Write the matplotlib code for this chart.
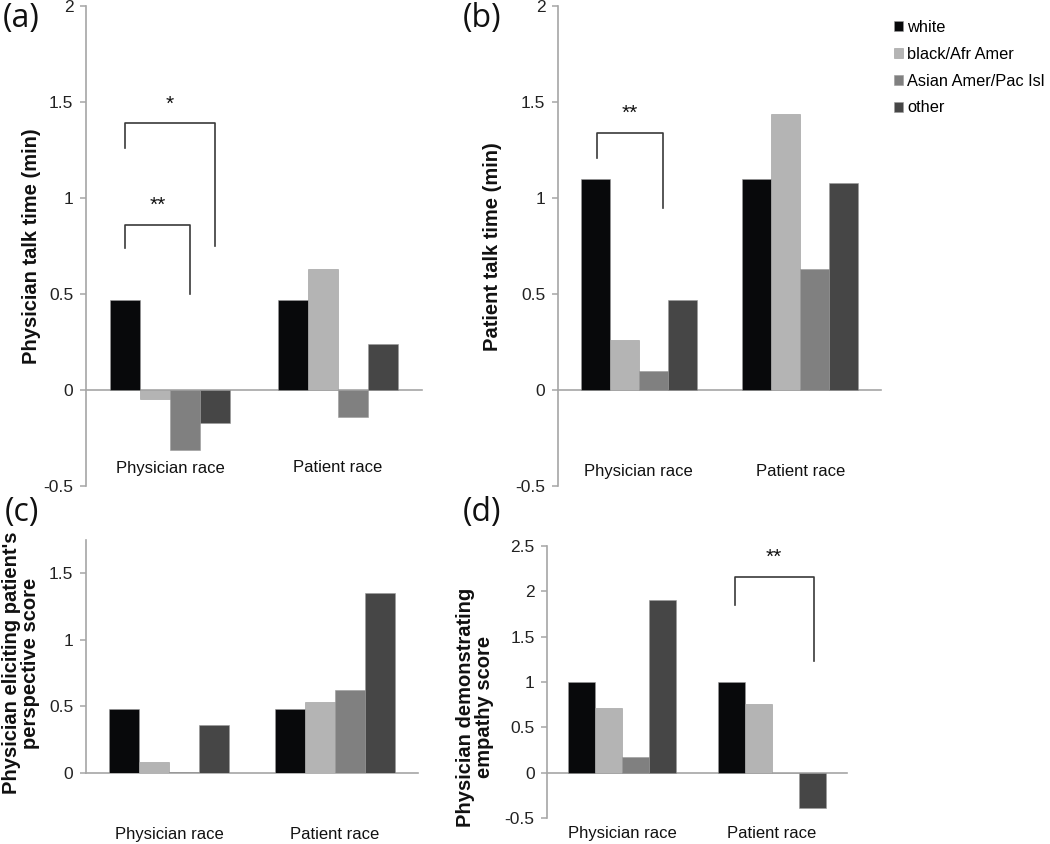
import matplotlib
matplotlib.use("Agg")
import matplotlib.pyplot as plt
import numpy as np

plt.rcParams['font.family'] = ['Liberation Sans', 'DejaVu Sans']

groups = ['Physician race', 'Patient race']
races = ['white', 'black/Afr Amer', 'Asian Amer/Pac Isl', 'other']
colors = ['#08090b', '#b4b4b4', '#808080', '#464646']

# values per race: [physician race, patient race]
talk_phys = {'white': [0.47, 0.47], 'black/Afr Amer': [-0.045, 0.63],
             'Asian Amer/Pac Isl': [-0.31, -0.14], 'other': [-0.17, 0.24]}
talk_pat = {'white': [1.10, 1.10], 'black/Afr Amer': [0.26, 1.44],
            'Asian Amer/Pac Isl': [0.10, 0.63], 'other': [0.47, 1.08]}
eliciting = {'white': [0.48, 0.48], 'black/Afr Amer': [0.08, 0.53],
             'Asian Amer/Pac Isl': [0.01, 0.62], 'other': [0.36, 1.35]}
empathy = {'white': [1.0, 1.0], 'black/Afr Amer': [0.71, 0.76],
           'Asian Amer/Pac Isl': [0.17, 0.0], 'other': [1.90, -0.39]}

W, H = 1050, 844
fig = plt.figure(figsize=(W / 100, H / 100), dpi=100)


def px_axes(left, top, right, bottom):
    return fig.add_axes([left / W, 1 - bottom / H, (right - left) / W, (bottom - top) / H])


def bar_panel(ax, data, ylim, yticks, label_y):
    x = np.arange(len(groups))
    width = 0.18
    handles = []
    for i, r in enumerate(races):
        h = ax.bar(x + (i - 1.5) * width, data[r], width, color=colors[i],
                   edgecolor='#9a9a9a', linewidth=0.4, label=r, zorder=2)
        handles.append(h)
    ax.set_xlim(-0.5, 1.5)
    ax.set_ylim(*ylim)
    ax.set_yticks(yticks)
    ax.set_yticklabels([('%g' % t) for t in yticks])
    ax.set_xticks([])
    for s in ['top', 'right', 'bottom']:
        ax.spines[s].set_visible(False)
    ax.spines['left'].set_color('#a6a6a6')
    ax.spines['left'].set_linewidth(1.2)
    ax.tick_params(axis='y', length=4, width=1.1, color='#a6a6a6',
                   labelsize=12.5, labelcolor='#222222', pad=5)
    ax.axhline(0, color='#a6a6a6', lw=1.2, zorder=1, clip_on=False)
    for xi, g in zip(x, groups):
        ax.text(xi, label_y, g, transform=ax.get_xaxis_transform(),
                ha='center', va='center', fontsize=12, color='#111111', clip_on=False)
    return handles


def bracket(ax, x1, x2, y1, ytop, y2, text, ty):
    ax.plot([x1, x1, x2, x2], [y1, ytop, ytop, y2], color='#3a3a3a', lw=1.2, zorder=3)
    ax.text((x1 + x2) / 2, ty, text, ha='center', va='center', fontsize=15, color='#111111')


ax_a = px_axes(86, 6, 422, 486)
handles = bar_panel(ax_a, talk_phys, (-0.5, 2), [-0.5, 0, 0.5, 1, 1.5, 2], 0.0375)
bracket(ax_a, -0.27, 0.12, 0.74, 0.86, 0.50, '**', 0.96)
bracket(ax_a, -0.27, 0.27, 1.26, 1.39, 0.75, '*', 1.49)

ax_b = px_axes(558, 6, 881, 486)
bar_panel(ax_b, talk_pat, (-0.5, 2), [-0.5, 0, 0.5, 1, 1.5, 2], 0.031)
bracket(ax_b, -0.26, 0.15, 1.21, 1.34, 0.95, '**', 1.44)

ax_c = px_axes(86, 540, 418, 773)
bar_panel(ax_c, eliciting, (0, 1.75), [0, 0.5, 1, 1.5], -0.264)

ax_d = px_axes(547, 546, 847, 818)
bar_panel(ax_d, empathy, (-0.5, 2.5), [-0.5, 0, 0.5, 1, 1.5, 2, 2.5], -0.058)
bracket(ax_d, 0.75, 1.28, 1.85, 2.16, 1.23, '**', 2.37)

# y-axis labels
ylab = dict(rotation=90, ha='center', va='center', fontsize=14.5,
            fontweight='bold', color='#111111', linespacing=1.05)
fig.text(32 / W, 1 - 246 / H, 'Physician talk time (min)', **ylab)
fig.text(493 / W, 1 - 247 / H, 'Patient talk time (min)', **ylab)
fig.text(21 / W, 1 - 663 / H, "Physician eliciting patient's\nperspective score", **ylab)
fig.text(475 / W, 1 - 707 / H, 'Physician demonstrating\nempathy score', **ylab)

# panel letters
for lab, xp, yp in [('(a)', 21, 19), ('(b)', 482, 19), ('(c)', 22, 513), ('(d)', 482, 513)]:
    fig.text(xp / W, 1 - yp / H, lab, ha='center', va='center', fontsize=23,
             family=['Open Sans', 'DejaVu Sans'], color='#111111')

fig.legend(handles=handles, labels=races, loc='upper left',
           bbox_to_anchor=(894 / W, 1 - 20 / H), frameon=False, fontsize=11.8,
           handlelength=0.55, handleheight=0.55, handletextpad=0.25,
           labelspacing=0.72, borderpad=0, borderaxespad=0)

fig.savefig('out.png', dpi=100)
